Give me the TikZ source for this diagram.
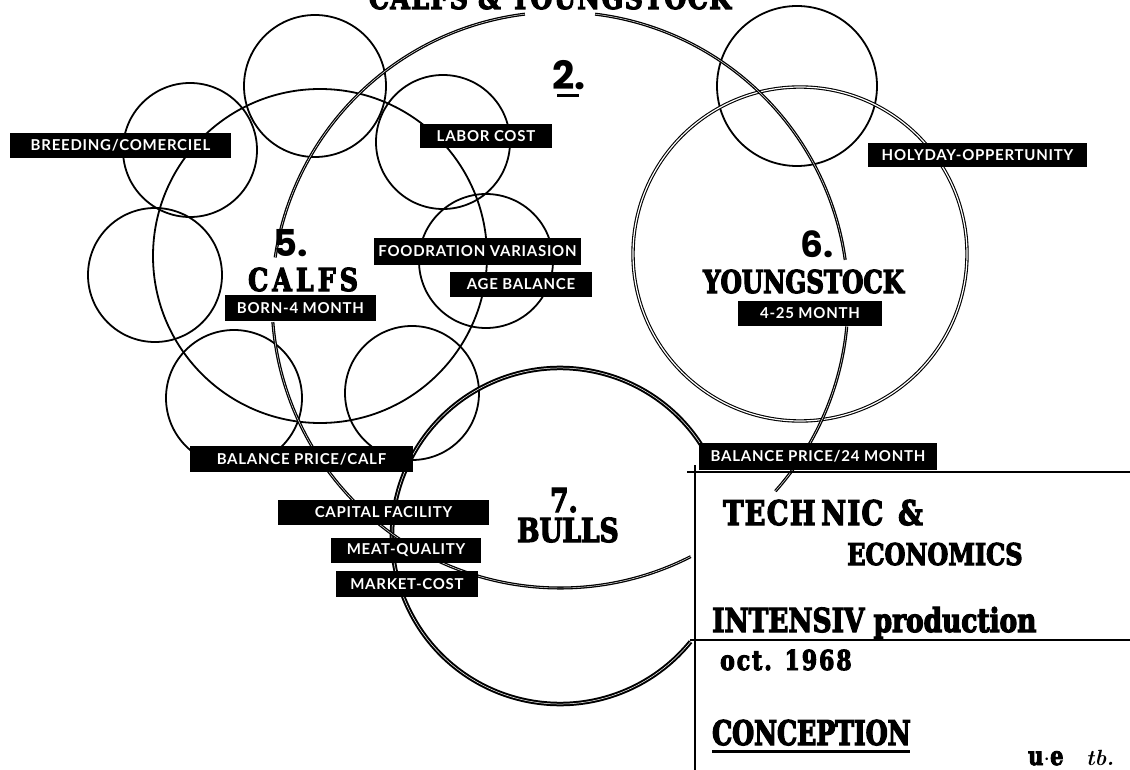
\documentclass[tikz,border=0pt]{standalone}
\usepackage{fontspec}
\usepackage{tikz}

\newfontfamily\slab[FakeStretch=0.8, FakeBold=3.5]{DejaVu Serif}
\newfontfamily\tape[LetterSpace=5]{Lato}
\newfontfamily\futura{Poppins}

\begin{document}
\begin{tikzpicture}[x=1pt, y=-1pt,
    ring/.style={line width=1.8pt},
    loop/.style={line width=1.3pt, double, double distance=0.45pt},
    tape/.style={fill=black, text=white, inner sep=0pt, font=\tape\bfseries\fontsize{15}{15}\selectfont},
    slab/.style={anchor=base west, inner sep=0pt},
    numb/.style={anchor=base west, inner sep=0pt},
  ]
    \useasboundingbox (0,0) rectangle (1130,770);
    \clip (0,0) rectangle (1130,770);

    % small circles round the calfs
    \draw[ring] (315,86) circle (71);
    \draw[ring] (443,142) circle (67);
    \draw[ring] (190,150) circle (67);
    \draw[ring] (155,275) circle (67);
    \draw[ring] (486,261) circle (67);
    \draw[ring] (234,398) circle (68);
    \draw[ring] (412,393) circle (67);
    \draw[ring] (797,86) circle (80);

    % calfs, youngstock, bulls
    \draw[ring] (320,256) circle (167);
    \draw[line width=1.1pt, double, double distance=1.2pt] (800,254) circle (167);
    \draw[line width=2pt, double, double distance=0.5pt] (560,536) ++(-25:168) arc[start angle=-25, end angle=-321, radius=168];

    % the big loop 2.
    \draw[loop] (560,300) ++(-97:288) arc[start angle=-97, end angle=-171.5, radius=288];
    \draw[loop] (560,300) ++(-83:288) arc[start angle=-83, end angle=-8, radius=288];
    \draw[loop] (560,300) ++(5.3:288) arc[start angle=5.3, end angle=41.6, radius=288];
    \draw[loop] (560,300) ++(63:288) arc[start angle=63, end angle=175.6, radius=288];

    % title block
    \draw[line width=1.5pt] (687,472) -- (1130,472);
    \draw[line width=1.5pt] (690,640) -- (1130,640);
    \draw[line width=1.5pt] (695,465) -- (695,770);

    % tapes
    \node[tape, minimum width=221pt, minimum height=25pt] (breeding) at (120.5,145.5) {BREEDING/COMERCIEL};
    \node[tape, minimum width=132pt, minimum height=24pt] (labor) at (486,136) {LABOR COST};
    \node[tape, minimum width=207pt, minimum height=26pt] (food) at (477.5,251.5) {FOODRATION VARIASION};
    \node[tape, minimum width=142pt, minimum height=25pt] (age) at (521,284.5) {AGE BALANCE};
    \node[tape, minimum width=151pt, minimum height=26pt] (born) at (300.5,308) {BORN-4 MONTH};
    \node[tape, minimum width=219pt, minimum height=24pt] (holyday) at (977.5,155) {HOLYDAY-OPPERTUNITY};
    \node[tape, minimum width=144pt, minimum height=25pt] (young age) at (810,313.5) {4-25 MONTH};
    \node[tape, minimum width=238pt, minimum height=27pt] (price24) at (818,456.5) {BALANCE PRICE/24 MONTH};
    \node[tape, minimum width=223pt, minimum height=26pt] (pricecalf) at (301.5,459) {BALANCE PRICE/CALF};
    \node[tape, minimum width=211pt, minimum height=25pt] (capital) at (383.5,512.5) {CAPITAL FACILITY};
    \node[tape, minimum width=150pt, minimum height=25pt] (meat) at (406,550.5) {MEAT-QUALITY};
    \node[tape, minimum width=142pt, minimum height=26pt] (market) at (407,584) {MARKET-COST};

    % numbers and names
    \node[numb, font=\futura\bfseries\fontsize{39}{39}\selectfont] (two) at (552,90) {2.};
    \draw[line width=3pt] (557,95.5) -- (579,95.5);
    \node[numb, font=\futura\bfseries\fontsize{37}{37}\selectfont] (five) at (273,257) {5.};
    \node[numb, font=\futura\bfseries\fontsize{36}{36}\selectfont] (six) at (800,258) {6.};
    \node[slab, font=\slab\bfseries\fontsize{33}{33}\selectfont] (seven) at (550,512) {7.};

    \node[slab, anchor=base, font=\slab\bfseries\addfontfeature{LetterSpace=4.5}\fontsize{31.5}{31.5}\selectfont] (title) at (550,9) {CALFS \& YOUNGSTOCK};
    \node[slab, font=\slab\bfseries\addfontfeature{LetterSpace=13}\fontsize{31.5}{31.5}\selectfont] (calfs) at (248,291) {CALFS};
    \node[slab, font=\slab\bfseries\addfontfeature{FakeStretch=0.775}\fontsize{31.5}{31.5}\selectfont] (youngstock) at (703,293) {YOUNGSTOCK};
    \node[slab, font=\slab\bfseries\fontsize{33}{33}\selectfont] (bulls) at (517,542) {BULLS};

    \node[slab, font=\slab\bfseries\addfontfeature{LetterSpace=4}\fontsize{34}{34}\selectfont] (technic) at (723,525) {TECH\,NIC};
    \node[slab, font=\slab\bfseries\fontsize{34}{34}\selectfont] (and) at (898,525) {\&};
    \node[slab, font=\slab\bfseries\fontsize{30}{30}\selectfont] (economics) at (847,565) {ECONOMICS};
    \node[slab, font=\slab\bfseries\fontsize{33}{33}\selectfont] (intensiv) at (712,632) {INTENSIV production};
    \node[slab, font=\slab\bfseries\addfontfeature{LetterSpace=7}\fontsize{27.5}{27.5}\selectfont] (date) at (720,670) {oct. 1968};
    \node[slab, font=\slab\bfseries\addfontfeature{FakeStretch=0.74}\fontsize{34}{34}\selectfont] (conception) at (712,745) {CONCEPTION};
    \draw[line width=3pt] (712,751.5) -- (910,751.5);
    \node[slab, font=\slab\bfseries\fontsize{26}{26}\selectfont] (sign) at (1028,765) {u$\cdot$e};
    \node[slab, font=\itshape\bfseries\fontsize{22}{22}\selectfont] (initials) at (1086,765) {tb.};
\end{tikzpicture}
\end{document}
